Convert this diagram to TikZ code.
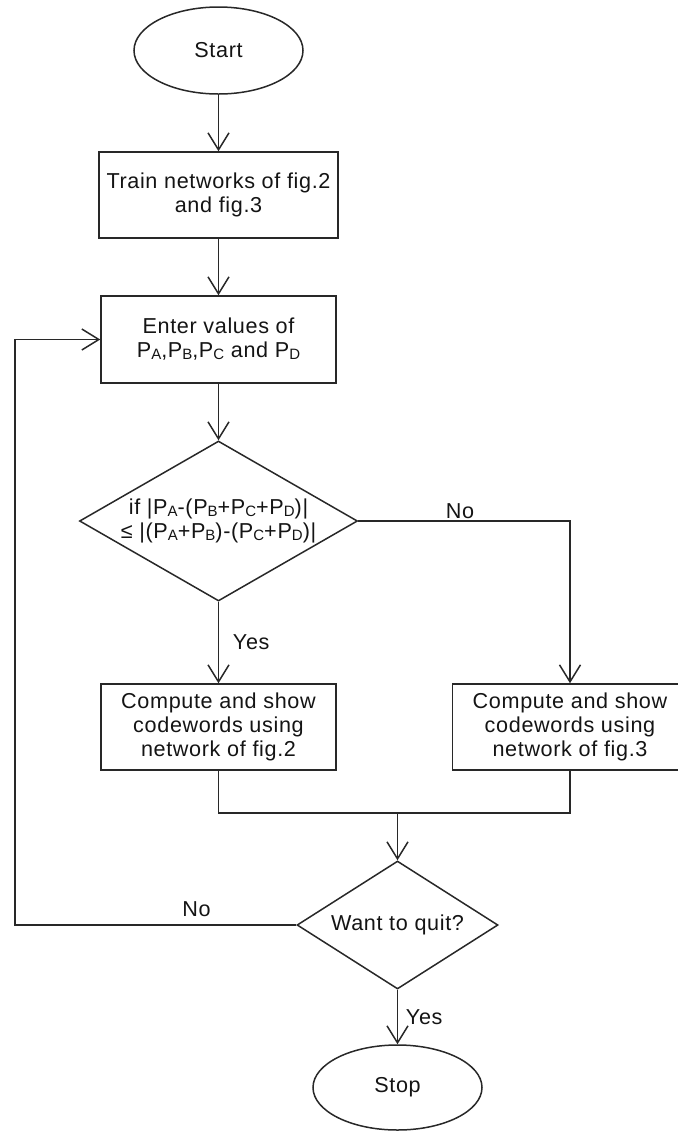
\documentclass[tikz,border=0pt]{standalone}
\usepackage{fontspec}
\setmainfont{Liberation Sans}[LetterSpace=3]
\usepackage{tikz}
\usetikzlibrary{arrows.meta,shapes.geometric}
\definecolor{fcline}{RGB}{40,40,40}
\definecolor{fctext}{RGB}{20,20,20}
\newcommand{\Psub}[1]{P\raisebox{-0.8pt}{\fontsize{7.5}{8}\selectfont #1}}

\begin{document}
\begin{tikzpicture}[x=0.5pt,y=-0.5pt,
    every node/.style={font=\fontsize{10.8}{12}\selectfont,text=fctext},
    term/.style={draw=fcline,line width=0.75pt,ellipse,minimum width=84.5pt,minimum height=43.5pt,inner sep=0pt},
    proc/.style={draw=fcline,line width=0.75pt,rectangle,align=center,minimum width=117.5pt,minimum height=43pt,inner sep=2pt},
    decision/.style={draw=fcline,line width=0.75pt,diamond,align=center,inner sep=0pt},
    link/.style={draw=fcline,line width=0.75pt},
    arr/.style={link,-{Straight Barb[length=8.5pt,width=10.5pt]}}]
  \useasboundingbox (0,0) rectangle (678,1131);
  \clip (0,0) rectangle (678,1131);

  %% Main column
  \node[term] (start) at (218.5,50.5) {Start};
  \node[proc,minimum width=119.5pt] (train) at (218.5,195) {Train networks of fig.2\\and fig.3};
  \node[proc,minimum height=43.5pt] (enter) at (218.5,339.5)
        {Enter values of\\\Psub{A},\Psub{B},\Psub{C} and \Psub{D}};
  \node[decision,minimum width=139pt,minimum height=80pt,shape aspect=1.74] (cond) at (218.5,521)
        {if |\Psub{A}-(\Psub{B}+\Psub{C}+\Psub{D})|\\≤ |(\Psub{A}+\Psub{B})-(\Psub{C}+\Psub{D})|};

  %% Two branches
  \node[proc] (lbox) at (218.5,727) {Compute and show\\codewords using\\network of fig.2};
  \node[proc] (rbox) at (570,727) {Compute and show\\codewords using\\network of fig.3};

  %% Quit test and end
  \node[decision,minimum width=100.5pt,minimum height=64pt,shape aspect=1.57] (quit) at (397.5,925) {Want to quit?};
  \node[term,minimum height=42.5pt] (stop) at (397.5,1087.5) {Stop};
  \coordinate (merge) at (397.5,813);
  \coordinate (back) at (15,925);

  %% Connectors
  \draw[arr] (start) -- (train);
  \draw[arr] (train) -- (enter);
  \draw[arr] (enter) -- (cond);
  \draw[arr] (cond) -- node[right=3.5pt]{Yes} (lbox);
  \draw[arr] (cond.east) -| node[pos=0.24,above,inner sep=1pt]{No} (rbox);
  \draw[link] (lbox) |- (merge) -| (rbox);
  \draw[arr] (merge) -- (quit);
  \draw[arr] (quit) -- node[right=0.5pt]{Yes} (stop);
  \draw[arr] (quit.west) -- node[pos=0.355,above,inner sep=4pt]{No} (back) |- (enter);
\end{tikzpicture}
\end{document}
